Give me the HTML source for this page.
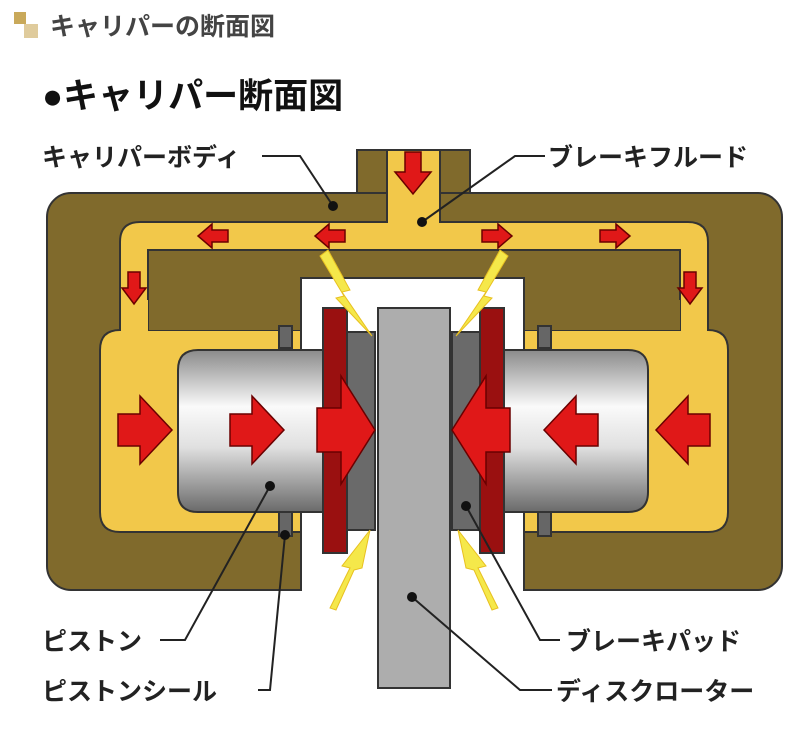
<!DOCTYPE html>
<html><head><meta charset="utf-8"><style>
body{margin:0;background:#fff;width:802px;height:739px;overflow:hidden}
svg text{font-family:"Liberation Sans","Noto Sans CJK JP",sans-serif;font-weight:bold}
</style></head><body>
<svg width="802" height="739" viewBox="0 0 802 739" xmlns="http://www.w3.org/2000/svg">
<defs>
<linearGradient id="pg" x1="0" y1="0" x2="0" y2="1">
<stop offset="0" stop-color="#8a8a8a"/><stop offset="0.35" stop-color="#fafafa"/><stop offset="0.6" stop-color="#e0e0e0"/><stop offset="1" stop-color="#6a6a6a"/></linearGradient>
</defs>
<rect x="14" y="12" width="12" height="12" fill="#c9a95a"/><rect x="24" y="24" width="14" height="14" fill="#c9a95a" opacity="0.6"/>
<text x="50" y="35" font-size="25" fill="#444" font-weight="normal">キャリパーの断面図</text>
<text x="42" y="108" font-size="35" fill="#111">●キャリパー断面図</text>
<text x="42" y="166" font-size="25" fill="#222">キャリパーボディ</text>
<text x="548" y="166" font-size="25" fill="#222">ブレーキフルード</text>
<text x="42" y="650" font-size="25" fill="#222">ピストン</text>
<text x="42" y="700" font-size="25" fill="#222">ピストンシール</text>
<text x="566" y="650" font-size="25" fill="#222">ブレーキパッド</text>
<text x="556" y="700" font-size="25" fill="#222">ディスクローター</text>
<g stroke="#333" stroke-width="2">
<rect x="357" y="150" width="113" height="60" fill="#806a2c"/>
<rect x="47" y="193" width="735" height="397" rx="24" fill="#806a2c"/>
<rect x="301" y="278" width="223" height="325" fill="#fff" stroke="none"/>
<path d="M301 278 H524 M301 278 V591 M524 278 V591" fill="none"/>
<path d="M387 150 H440 V222 H688 Q708 222 708 242 V330 H708 Q728 330 728 350 V512 Q728 532 708 532 H524 V278 H680 V250 H148 V278 H301 V532 H120 Q100 532 100 512 V350 Q100 330 120 330 V242 Q120 222 140 222 H387 Z" fill="#f2c84a"/>
<path d="M148 250 H680 V330 H524 V278 H301 V330 H148 Z" fill="#806a2c"/>
<rect x="149" y="300" width="151" height="30" fill="#806a2c" stroke="none"/>
<rect x="525" y="300" width="155" height="30" fill="#806a2c" stroke="none"/>
<rect x="121" y="300" width="27" height="31" fill="#f2c84a" stroke="none"/>
<rect x="681" y="300" width="26" height="31" fill="#f2c84a" stroke="none"/>
<rect x="279" y="326" width="13" height="22" fill="#666"/>
<rect x="279" y="512" width="13" height="24" fill="#666"/>
<rect x="538" y="326" width="13" height="22" fill="#666"/>
<rect x="538" y="512" width="13" height="24" fill="#666"/>
<path d="M198 350 H330 V512 H198 Q178 512 178 492 V370 Q178 350 198 350 Z" fill="url(#pg)"/>
<path d="M495 350 H628 Q648 350 648 370 V492 Q648 512 628 512 H495 Z" fill="url(#pg)"/>
<rect x="347" y="332" width="28" height="198" fill="#6a6a6a"/>
<rect x="452" y="332" width="28" height="198" fill="#6a6a6a"/>
<rect x="323" y="308" width="24" height="245" fill="#9a1010"/>
<rect x="480" y="308" width="24" height="245" fill="#9a1010"/>
<rect x="378" y="308" width="72" height="380" fill="#adadad"/>
</g>
<g fill="#f5e84a" stroke="#e8c020" stroke-width="1">
<path d="M328 250 L350 290 L342 292 L372 336 L336 298 L344 296 L320 256 Z"/>
<path d="M500 250 L478 290 L486 292 L456 336 L492 298 L484 296 L508 256 Z"/>
<path d="M330 608 L350 568 L342 566 L370 530 L362 568 L354 570 L336 610 Z"/>
<path d="M498 608 L478 568 L486 566 L458 530 L466 568 L474 570 L492 610 Z"/>
</g>
<g fill="#e01818" stroke="#6a0000" stroke-width="1.5">
<path d="M405 152 h16 v20 h10 l-18 22 l-18 -22 h10 z"/>
<path d="M228 230 h-16 v-6 l-14 12 l14 12 v-6 h16 z"/>
<path d="M345 230 h-16 v-6 l-14 12 l14 12 v-6 h16 z"/>
<path d="M482 230 h16 v-6 l14 12 l-14 12 v-6 h-16 z"/>
<path d="M600 230 h16 v-6 l14 12 l-14 12 v-6 h-16 z"/>
<path d="M128 272 h12 v16 h6 l-12 16 l-12 -16 h6 z"/>
<path d="M684 272 h12 v16 h6 l-12 16 l-12 -16 h6 z"/>
<path d="M118 414 h22 v-18 l32 34 l-32 34 v-18 h-22 z"/>
<path d="M230 414 h22 v-18 l32 34 l-32 34 v-18 h-22 z"/>
<path d="M317 408 h24 v-32 l34 54 l-34 54 v-32 h-24 z"/>
<path d="M710 414 h-22 v-18 l-32 34 l32 34 v-18 h22 z"/>
<path d="M598 414 h-22 v-18 l-32 34 l32 34 v-18 h22 z"/>
<path d="M510 408 h-24 v-32 l-34 54 l34 54 v-32 h24 z"/>
</g>
<g stroke="#222" stroke-width="2" fill="none">
<path d="M262 156 H300 L333 206"/>
<path d="M545 156 H515 L422 222"/>
<path d="M160 640 H185 L270 486"/>
<path d="M258 690 H270 L285 535"/>
<path d="M560 640 H540 L466 506"/>
<path d="M552 690 H520 L412 597"/>
</g>
<g fill="#111">
<circle cx="333" cy="206" r="5"/><circle cx="422" cy="222" r="5"/><circle cx="270" cy="486" r="5"/>
<circle cx="285" cy="535" r="5"/><circle cx="466" cy="506" r="5"/><circle cx="412" cy="597" r="5"/>
</g>
</svg>
</body></html>
